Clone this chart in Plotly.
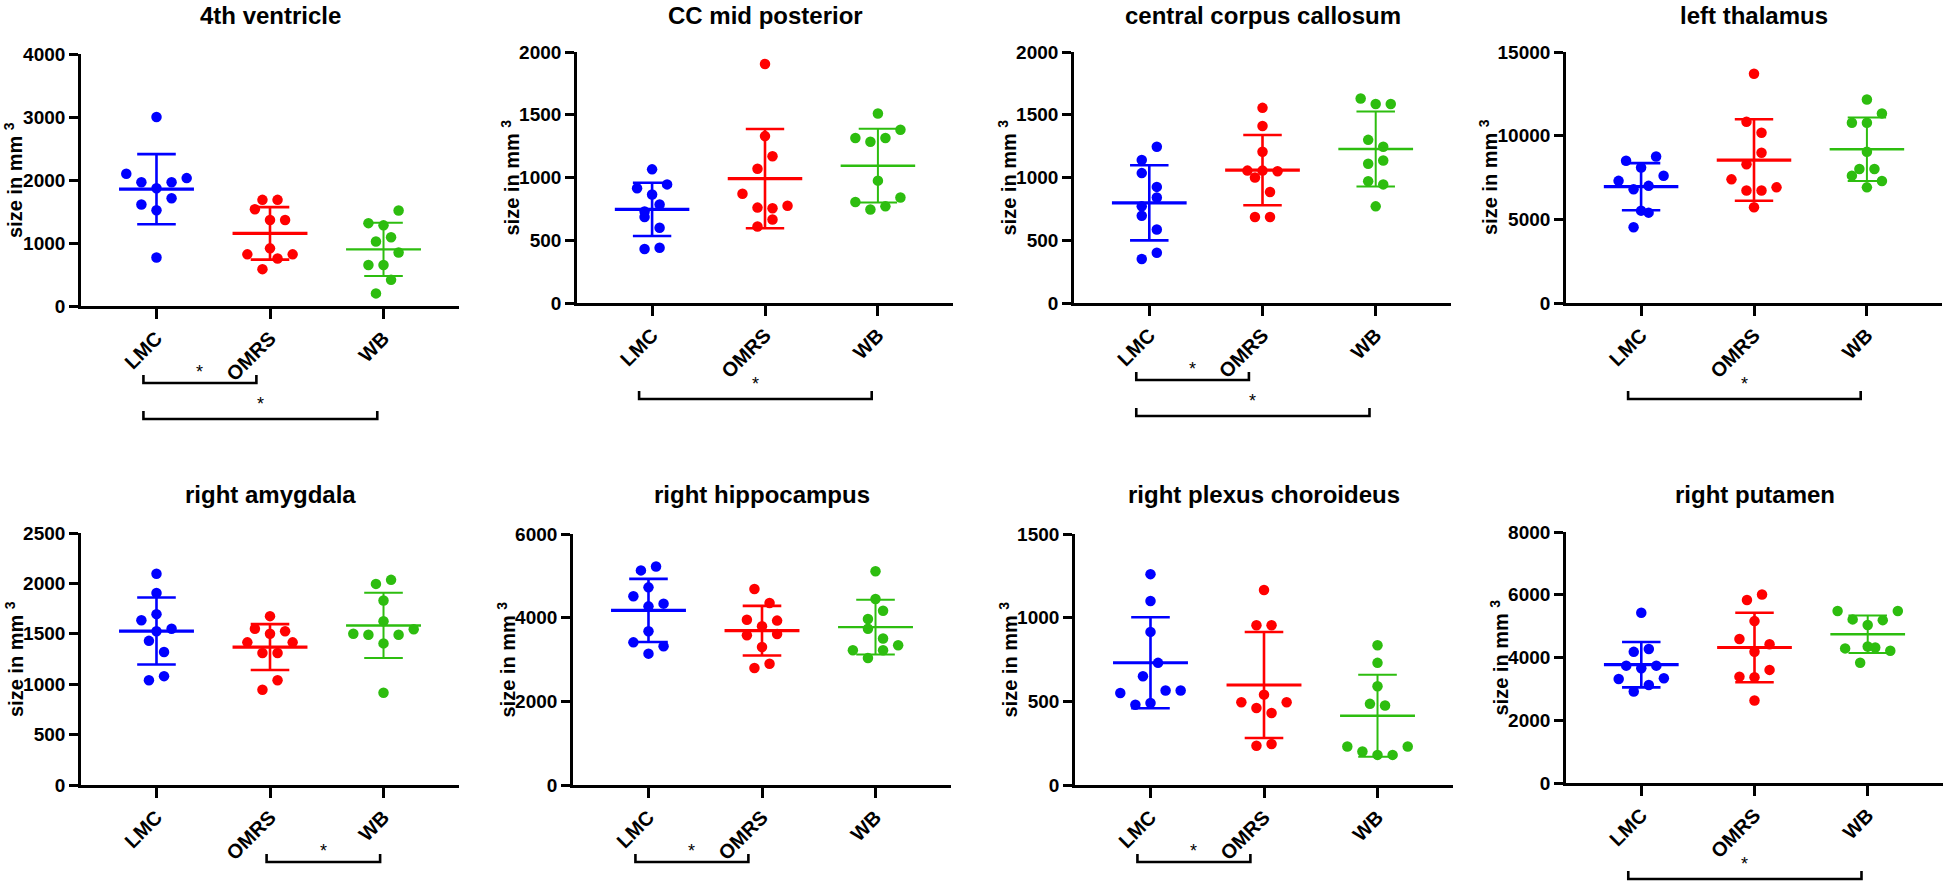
import plotly.graph_objects as go
import numpy as np

# ---------------- data ----------------
GROUPS = ["LMC", "OMRS", "WB"]
TITLES = ["4th ventricle", "CC mid posterior", "central corpus callosum", "left thalamus",
          "right amygdala", "right hippocampus", "right plexus choroideus", "right putamen"]
Y_MAX = [4000, 2000, 2000, 15000, 2500, 6000, 1500, 8000]
Y_DTICK = [1000, 500, 500, 5000, 500, 2000, 500, 2000]
Y_LABEL = "size in mm <sup>3</sup>"

VENT4_LMC = [3000, 2100, 1965, 1870, 1965, 2030, 1610, 1520, 1710, 770]
VENT4_OMRS = [1685, 1685, 1535, 1365, 1365, 915, 820, 585, 755, 820]
VENT4_WB = [1315, 1280, 1515, 1025, 1090, 650, 650, 850, 200, 415]

CCMP_LMC = [1065, 915, 865, 945, 730, 785, 685, 600, 430, 440]
CCMP_OMRS = [1905, 1330, 1070, 1170, 870, 760, 755, 775, 610, 665]
CCMP_WB = [1510, 1315, 1285, 1315, 1380, 975, 805, 745, 770, 840]

CCC_LMC = [1140, 1245, 1035, 925, 770, 840, 695, 585, 350, 400]
CCC_OMRS = [1555, 1410, 1205, 1055, 1055, 1050, 1000, 885, 685, 685]
CCC_WB = [1630, 1585, 1585, 1300, 1245, 1110, 1135, 970, 945, 770]

LTHAL_LMC = [8500, 8100, 8750, 7300, 6800, 7000, 7600, 5520, 4530, 5400]
LTHAL_OMRS = [13700, 10830, 10170, 8290, 8980, 7390, 6720, 6720, 6910, 5720]
LTHAL_WB = [12160, 10770, 10770, 11330, 9040, 8010, 8010, 7610, 6910, 7290]

RAMY_LMC = [2095, 1905, 1695, 1635, 1525, 1550, 1430, 1320, 1040, 1080]
RAMY_OMRS = [1675, 1550, 1500, 1525, 1415, 1310, 1310, 1415, 945, 1040]
RAMY_WB = [1995, 2035, 1830, 1625, 1500, 1490, 1405, 1490, 1545, 915]

RHIP_LMC = [5130, 5225, 4725, 4510, 4270, 4335, 3675, 3410, 3140, 3315]
RHIP_OMRS = [4685, 4350, 3950, 3795, 3930, 3580, 3300, 3610, 2795, 2900]
RHIP_WB = [5110, 4445, 3970, 4165, 3735, 3500, 3220, 3035, 3220, 3340]

RPLX_LMC = [1260, 1100, 915, 650, 730, 550, 480, 490, 565, 565]
RPLX_OMRS = [1165, 955, 955, 540, 495, 460, 430, 495, 235, 245]
RPLX_WB = [835, 730, 590, 485, 475, 230, 200, 180, 180, 230]

RPUT_LMC = [5425, 4180, 4270, 3740, 3655, 3740, 3315, 2915, 3125, 3340]
RPUT_OMRS = [5830, 6010, 5160, 4590, 4185, 4420, 3390, 3370, 3605, 2630]
RPUT_WB = [5480, 5215, 5035, 5190, 5480, 4350, 4290, 3835, 4320, 4215]

# significant pairs (group index a, group index b)
SIG_VENT4 = [(0, 1), (0, 2)]
SIG_CCMP = [(0, 2)]
SIG_CCC = [(0, 1), (0, 2)]
SIG_LTHAL = [(0, 2)]
SIG_RAMY = [(1, 2)]
SIG_RHIP = [(0, 1)]
SIG_RPLX = [(0, 1)]
SIG_RPUT = [(0, 2)]

PANEL_DATA = [
    (VENT4_LMC, VENT4_OMRS, VENT4_WB), (CCMP_LMC, CCMP_OMRS, CCMP_WB),
    (CCC_LMC, CCC_OMRS, CCC_WB), (LTHAL_LMC, LTHAL_OMRS, LTHAL_WB),
    (RAMY_LMC, RAMY_OMRS, RAMY_WB), (RHIP_LMC, RHIP_OMRS, RHIP_WB),
    (RPLX_LMC, RPLX_OMRS, RPLX_WB), (RPUT_LMC, RPUT_OMRS, RPUT_WB),
]
PANEL_SIG = [SIG_VENT4, SIG_CCMP, SIG_CCC, SIG_LTHAL, SIG_RAMY, SIG_RHIP, SIG_RPLX, SIG_RPUT]

# ---------------- style / layout ----------------
W, H = 1946, 884
COLORS = ["#0000FF", "#FF0000", "#2DBD0F"]
MEAN_W = [3.2, 3.2, 2.4]
BAR_W = [2.6, 2.6, 2.0]
FONT = "Arial, Liberation Sans, Helvetica, sans-serif"
SWARM_STEP = 0.133      # column spacing of the swarm (category units)
ROW_FRAC = 0.0615       # row height of the swarm as fraction of the y range
MEAN_HALF = 0.33
CAP_HALF = 0.17
X_RANGE = [-0.665, 2.665]

# plot rectangles in pixels: (left, right, top, bottom)
RECTS = [(81, 459, 54, 306), (577, 953, 52, 303), (1074, 1451, 52, 303), (1566, 1942, 52, 303),
         (81, 459, 533, 785), (573, 951, 534, 785), (1075, 1453, 534, 785), (1566, 1943, 532, 783)]


def swarm(values, ymax):
    n = len(values)
    order = sorted(range(n), key=lambda i: values[i])
    thr = ROW_FRAC * ymax
    offs = [0.0] * n
    i = 0
    while i < n:
        start = values[order[i]]
        row = [order[i]]
        j = i + 1
        while j < n and values[order[j]] - start <= thr:
            row.append(order[j])
            j += 1
        row.sort()
        k = len(row)
        for p, idx in enumerate(row):
            offs[idx] = (p - (k - 1) / 2.0) * SWARM_STEP
        i = j
    return offs


def px_x(x):
    return x / W


def px_y(y):
    return 1 - y / H


fig = go.Figure()
annotations = []
shapes = []

for p in range(8):
    ax = "" if p == 0 else str(p + 1)
    xref, yref = "x" + ax, "y" + ax
    l, r, t, b = RECTS[p]
    ymax = Y_MAX[p]
    for g in range(3):
        vals = PANEL_DATA[p][g]
        offs = swarm(vals, ymax)
        xs = [g + o for o in offs]
        fig.add_trace(go.Scatter(x=xs, y=vals, mode="markers", xaxis=xref, yaxis=yref,
                                 marker=dict(color=COLORS[g], size=10.5, line=dict(width=0)),
                                 showlegend=False, hoverinfo="y"))
        m = float(np.mean(vals))
        sd = float(np.std(vals, ddof=1))
        fig.add_trace(go.Scatter(x=[g - MEAN_HALF, g + MEAN_HALF], y=[m, m], mode="lines",
                                 xaxis=xref, yaxis=yref,
                                 line=dict(color=COLORS[g], width=MEAN_W[g]),
                                 showlegend=False, hoverinfo="skip"))
        fig.add_trace(go.Scatter(
            x=[g, g, None, g - CAP_HALF, g + CAP_HALF, None, g - CAP_HALF, g + CAP_HALF],
            y=[m - sd, m + sd, None, m + sd, m + sd, None, m - sd, m - sd],
            mode="lines", xaxis=xref, yaxis=yref,
            line=dict(color=COLORS[g], width=BAR_W[g]),
            showlegend=False, hoverinfo="skip"))

    fig.layout["xaxis" + ax] = dict(
        domain=[px_x(l), px_x(r)], anchor=yref, range=X_RANGE, automargin=False,
        tickvals=[0, 1, 2], ticktext=GROUPS, tickangle=-45,
        tickfont=dict(family=FONT, size=20, color="black", weight="bold"),
        showline=True, linewidth=2.6, linecolor="black", ticks="outside",
        ticklen=10, tickwidth=2.6, tickcolor="black", showgrid=False, zeroline=False,
        fixedrange=True)
    fig.layout["yaxis" + ax] = dict(
        domain=[px_y(b), px_y(t)], anchor=xref, range=[0, ymax], dtick=Y_DTICK[p],
        tick0=0, tickformat="d", automargin=False,
        tickfont=dict(family=FONT, size=19, color="black", weight="bold"),
        showline=True, linewidth=2.6, linecolor="black", ticks="outside",
        ticklen=9, tickwidth=2.6, tickcolor="black", showgrid=False, zeroline=False,
        fixedrange=True)

    title_y = 15.5 if p < 4 else 494.5
    annotations.append(dict(text=TITLES[p], x=px_x((l + r) / 2), y=px_y(title_y),
                            xref="paper", yref="paper", xanchor="center", yanchor="middle",
                            showarrow=False,
                            font=dict(family=FONT, size=24, color="black", weight="bold")))
    ndig = len(str(ymax))
    annotations.append(dict(text=Y_LABEL, x=px_x(l - (25 + 10.5 * ndig)),
                            y=px_y((t + b) / 2), xref="paper", yref="paper",
                            xanchor="center", yanchor="middle", textangle=-90, showarrow=False,
                            font=dict(family=FONT, size=20, color="black", weight="bold")))

    sigs = PANEL_SIG[p]
    for (a, c) in sigs:
        if c - a == 1:
            drop = 77
            star_gap = 14
        else:
            drop = 113 if len(sigs) > 1 else 96
            star_gap = 18
        sa = -0.115 if a == 0 else -0.03
        if c == 1:
            sc = -0.12
        elif a == 0:
            sc = -0.055
        else:
            sc = -0.03
        x0, x1 = a + sa, c + sc
        ypx = b + drop
        yb = px_y(ypx)
        yt = px_y(ypx - 8)
        shapes.append(dict(type="path", xref=xref, yref="paper",
                           path=f"M {x0},{yt} L {x0},{yb} L {x1},{yb} L {x1},{yt}",
                           line=dict(color="black", width=2.6)))
        annotations.append(dict(text="*", x=(x0 + x1) / 2, y=px_y(ypx - star_gap + 3),
                                xref=xref, yref="paper", xanchor="center", yanchor="middle",
                                showarrow=False, font=dict(family=FONT, size=18, color="black")))

fig.update_layout(template="none", width=W, height=H,
                  margin=dict(l=0, r=0, t=0, b=0, pad=0, autoexpand=False), autosize=False,
                  paper_bgcolor="white", plot_bgcolor="white",
                  annotations=annotations, shapes=shapes, showlegend=False)

fig.write_html("out.html", config={"displayModeBar": False},
               post_script="document.body.style.margin='0';")
